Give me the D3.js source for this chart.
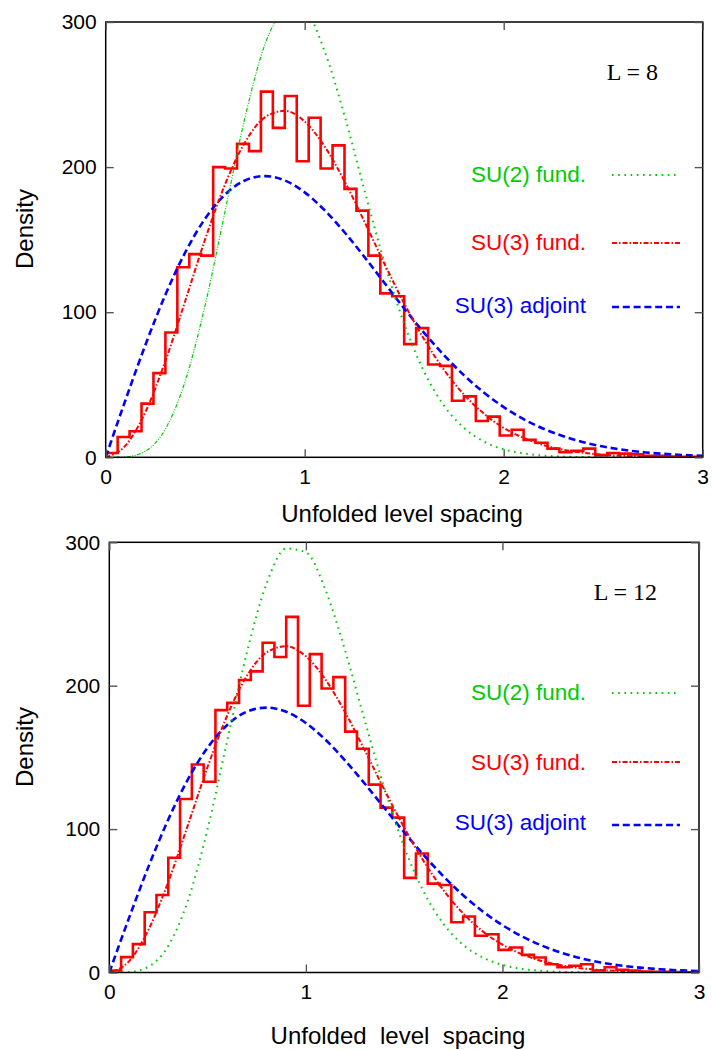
<!DOCTYPE html>
<html><head><meta charset="utf-8">
<script src="https://cdn.jsdelivr.net/npm/d3@7/dist/d3.min.js"></script>
<style>body{margin:0;background:#fff} svg{display:block} text{white-space:pre}</style>
</head><body>
<svg id="chart" width="712" height="1050"></svg>
<script>
// ---------------- DATA ----------------
const sGrid = [0,0.1,0.2,0.3,0.4,0.5,0.6,0.7,0.8,0.9,1.0,1.1,1.2,1.3,1.4,1.5,1.6,1.7,1.8,1.9,2.0,2.1,2.2,2.3,2.4,2.5,2.6,2.7,2.8,2.9,3.0];
const binWidth = 0.06;

// histogram (red step), L = 8
const hist8 = [3,14,18,37,58,86,131,140,139,200,199,216,211,252,227,249,204,234,199,215,185,170,139,113,111,78,89,64,63,39,42,25,28,15,19,12,10,6,3.5,4.4,6,1.5,3,2.5,2,1,1,0.5,0.3,0.3];
// histogram (red step), L = 12
const hist12 = [1.4,10.7,19.8,42,54,80,121,145,133,183,188,204,210,230,220,248,186,222,198,206,168,156,131,115,108,66,83,62,61,35,39,25.6,26.7,15.8,17.4,12.3,10.5,5.8,3.7,4.7,5.8,1.4,3.7,1.9,1.4,0.7,0.5,0.5,0.3,0.2];

// curves at sGrid, L = 8
const su2_8  = [0,0.3,4.3,19.5,52.7,105.0,169.7,234.2,284.5,310.2,307.5,279.9,235.5,184.2,134.5,91.9,59.0,35.6,20.3,10.9,5.5,2.7,1.2,0.5,0.2,0.1,0,0,0,0,0];
const su3f_8 = [0,8.2,31.4,66.4,107.9,150.4,188.2,217.1,234.3,238.8,231.4,214.3,190.3,162.5,133.6,106.0,81.3,60.3,43.3,30.1,20.3,13.3,8.4,5.2,3.1,1.8,1.0,0.6,0.3,0.2,0.1];
const su3a_8 = [0,39.7,77.6,112.0,141.3,164.6,181.1,190.8,193.8,190.8,182.6,170.3,155.1,138.1,120.3,102.6,85.8,70.4,56.6,44.7,34.6,26.3,19.7,14.5,10.4,7.4,5.2,3.5,2.4,1.6,1.0];
// curves, L = 12
const su2_12  = [0,0.3,4.1,18.6,50.2,100.0,161.7,223.2,271.1,295.6,293.0,266.7,224.4,175.5,128.2,87.6,56.2,33.9,19.3,10.4,5.3,2.5,1.2,0.5,0.2,0.1,0,0,0,0,0];
const su3f_12 = [0,7.8,30.0,63.2,102.8,143.3,179.3,206.9,223.2,227.5,220.5,204.2,181.4,154.8,127.3,101.1,77.5,57.4,41.2,28.7,19.4,12.7,8.0,5.0,3.0,1.7,1.0,0.5,0.3,0.2,0.1];
const su3a_12 = [0,37.9,74.0,106.7,134.7,156.8,172.6,181.9,184.7,181.8,174.0,162.3,147.8,131.6,114.6,97.8,81.8,67.1,53.9,42.6,33.0,25.1,18.8,13.8,9.9,7.0,4.9,3.4,2.3,1.5,1.0];

const xTicks = [0,1,2,3];
const yTicks = [0,100,200,300];
const legendLabels = ["SU(2) fund.","SU(3) fund.","SU(3) adjoint"];
const panelLabels = ["L = 8","L = 12"];
const xTitles = ["Unfolded level spacing","Unfolded  level  spacing"];
const yTitle = "Density";

// ---------------- STYLE / LAYOUT ----------------
const RED = "#ff0000", BLUE = "#0000ff", GREEN = "#00cc00";
const FONT = "'Liberation Sans', Arial, Helvetica, sans-serif";
const SERIF = "'Liberation Serif', 'Times New Roman', serif";

const panels = [
  {hist: hist8, su2: su2_8, su3f: su3f_8, su3a: su3a_8, label: panelLabels[0], xtitle: xTitles[0],
   x0:105.7, x1:702.7, yb:457.3, yt:22, split:true,
   leg:[{ty:182, ly:175},{ty:250, ly:243},{ty:313, ly:307}], lab:{x:658, y:80},
   xt:{x:402, y:522}, yt2:{x:33, y:229}},
  {hist: hist12, su2: su2_12, su3f: su3f_12, su3a: su3a_12, label: panelLabels[1], xtitle: xTitles[1],
   x0:109.3, x1:699, yb:972.5, yt:542.3, split:false,
   leg:[{ty:700, ly:693},{ty:770, ly:762},{ty:830, ly:825}], lab:{x:657, y:600},
   xt:{x:398, y:1044}, yt2:{x:33, y:747}}
];

const svg = d3.select("#chart");
svg.append("rect").attr("width",712).attr("height",1050).attr("fill","#fff");

panels.forEach((p, pi) => {
  const x = d3.scaleLinear().domain([0,3]).range([p.x0, p.x1]);
  const y = d3.scaleLinear().domain([0,300]).range([p.yb, p.yt]);
  const g = svg.append("g");

  const clipId = "clip" + pi;
  svg.append("defs").append("clipPath").attr("id", clipId)
    .append("rect").attr("x", p.x0).attr("y", p.yt).attr("width", p.x1 - p.x0).attr("height", p.yb - p.yt);

  const plot = g.append("g").attr("clip-path", `url(#${clipId})`);

  // histogram as step line
  const pts = [[0,0]];
  p.hist.forEach((v,i) => pts.push([+(i*binWidth).toFixed(2), v]));
  pts.push([3, p.hist[p.hist.length-1]]);
  pts.push([3, 0]);
  const stepLine = d3.line().x(d => x(d[0])).y(d => y(d[1])).curve(d3.curveStepAfter);
  plot.append("path").attr("d", stepLine(pts)).attr("fill","none")
    .attr("stroke", RED).attr("stroke-width", 2.6).attr("stroke-linejoin","miter");

  const curve = d3.line().x(d => x(d[0])).y(d => y(d[1])).curve(d3.curveMonotoneX);
  const zip = arr => sGrid.map((s,i) => [s, arr[i]]);

  // SU(3) adjoint - blue dashed
  plot.append("path").attr("d", curve(zip(p.su3a))).attr("fill","none")
    .attr("stroke", BLUE).attr("stroke-width", 2.6).attr("stroke-dasharray","7,3.8");
  // SU(2) fund - green dotted
  if (p.split) {
    const z = zip(p.su2);
    plot.append("path").attr("d", curve(z.filter(d => d[0] <= 0.9))).attr("fill","none")
      .attr("stroke", GREEN).attr("stroke-width", 1.2).attr("stroke-dasharray","4,1.5,1,1.5,1,1.5");
    plot.append("path").attr("d", curve(z.filter(d => d[0] >= 0.9))).attr("fill","none")
      .attr("stroke", GREEN).attr("stroke-width", 2).attr("stroke-dasharray","1.6,4.6");
  } else {
    plot.append("path").attr("d", curve(zip(p.su2))).attr("fill","none")
      .attr("stroke", GREEN).attr("stroke-width", 2).attr("stroke-dasharray","1.6,4.6");
  }
  // SU(3) fund - red dash-dot
  plot.append("path").attr("d", curve(zip(p.su3f))).attr("fill","none")
    .attr("stroke", RED).attr("stroke-width", 2).attr("stroke-dasharray","5,2,1.5,2");

  // frame
  g.append("rect").attr("x", p.x0).attr("y", p.yt).attr("width", p.x1 - p.x0).attr("height", p.yb - p.yt)
    .attr("fill","none").attr("stroke","#000").attr("stroke-width",1.5);

  // axes (ticks inward on all sides)
  const styleAxis = sel => {
    sel.select(".domain").remove();
    sel.selectAll(".tick line").attr("stroke","#555").attr("stroke-width",1.4);
    sel.selectAll(".tick text").attr("fill","#000").style("font-family", FONT).style("font-size","21px");
  };
  g.append("g").attr("transform",`translate(0,${p.yb})`)
    .call(d3.axisBottom(x).tickValues(xTicks).tickSize(-8).tickPadding(12).tickFormat(d3.format("d"))).call(styleAxis);
  g.append("g").attr("transform",`translate(0,${p.yt})`)
    .call(d3.axisTop(x).tickValues(xTicks).tickSize(-8).tickFormat("")).call(styleAxis);
  g.append("g").attr("transform",`translate(${p.x0},0)`)
    .call(d3.axisLeft(y).tickValues(yTicks).tickSize(-8).tickPadding(9).tickFormat(d3.format("d"))).call(styleAxis);
  g.append("g").attr("transform",`translate(${p.x1},0)`)
    .call(d3.axisRight(y).tickValues(yTicks).tickSize(-8).tickFormat("")).call(styleAxis);

  // axis titles
  g.append("text").attr("x", p.xt.x).attr("y", p.xt.y).attr("text-anchor","middle")
    .style("font-family", FONT).style("font-size","24px").text(p.xtitle);
  g.append("text").attr("transform",`translate(${p.yt2.x},${p.yt2.y}) rotate(-90)`).attr("text-anchor","middle")
    .style("font-family", FONT).style("font-size","24px").text(yTitle);

  // panel label
  g.append("text").attr("x", p.lab.x).attr("y", p.lab.y).attr("text-anchor","end")
    .style("font-family", SERIF).style("font-size","24px").text(p.label);

  // legend
  const legStyles = [
    {c: GREEN, w: 2, dash: "1.6,4.6"},
    {c: RED, w: 2, dash: "5,2,1.5,2"},
    {c: BLUE, w: 2.6, dash: "7,3.8"}
  ];
  legendLabels.forEach((t, i) => {
    g.append("text").attr("x", 586).attr("y", p.leg[i].ty).attr("text-anchor","end")
      .attr("fill", legStyles[i].c).style("font-family", FONT).style("font-size","22.5px").text(t);
    g.append("line").attr("x1", 612).attr("x2", 680).attr("y1", p.leg[i].ly).attr("y2", p.leg[i].ly)
      .attr("stroke", legStyles[i].c).attr("stroke-width", legStyles[i].w).attr("stroke-dasharray", legStyles[i].dash);
  });
});
</script>
</body></html>
